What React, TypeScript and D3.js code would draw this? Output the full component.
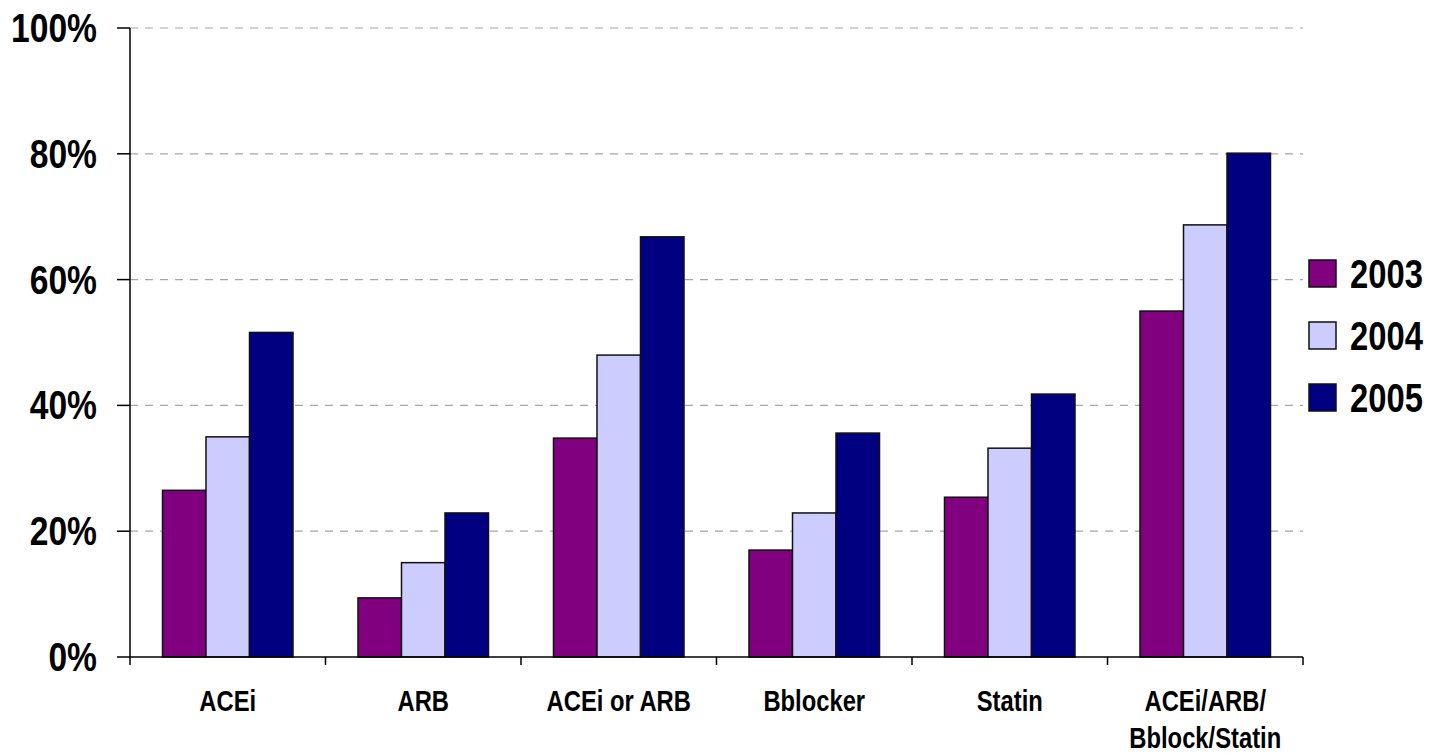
import React from "react";
import * as d3 from "d3";

const categories = ["ACEi", "ARB", "ACEi or ARB", "Bblocker", "Statin", "ACEi/ARB/\nBblock/Statin"];
const seriesNames = ["2003", "2004", "2005"];
const values2003 = [26.5, 9.4, 34.8, 17.0, 25.4, 55.0];
const values2004 = [35.0, 15.0, 48.0, 22.9, 33.2, 68.7];
const values2005 = [51.6, 22.9, 66.8, 35.6, 41.8, 80.1];
const seriesValues = [values2003, values2004, values2005];
const colors = ["#800080", "#CCCCFF", "#000080"];
const yTicks = [0, 20, 40, 60, 80, 100];

const FONT = "'Liberation Sans Narrow', 'Arial Narrow', 'Liberation Sans', Arial, sans-serif";
const SX = 0.82;

export default function App() {
  const W = 1441, H = 754;
  const left = 130, right = 1303, top = 28, bottom = 657;

  const x = d3.scaleBand<string>().domain(categories).range([left, right]).paddingInner(0).paddingOuter(0);
  const inner = d3.scaleBand<string>().domain(seriesNames).range([32.5, x.bandwidth() - 32.5]).padding(0);
  const y = d3.scaleLinear().domain([0, 100]).range([bottom, top]);

  const boundaries = categories.map((c) => x(c)!).concat([right]);

  return (
    <svg width={W} height={H} style={{ position: "absolute", left: 0, top: 0, background: "#fff" }}>
      {/* gridlines */}
      {yTicks.filter((t) => t > 0).map((t) => (
        <line key={"g" + t} x1={left} x2={right} y1={y(t)} y2={y(t)} stroke="#a6a6a6" strokeWidth={1.2} strokeDasharray="8,7" />
      ))}
      {/* bars */}
      {categories.map((c, ci) => (
        <g key={c}>
          {seriesNames.map((s, si) => {
            const v = seriesValues[si][ci];
            return (
              <rect key={s} x={x(c)! + inner(s)!} y={y(v)} width={inner.bandwidth()} height={y(0) - y(v)}
                fill={colors[si]} stroke="#111" strokeWidth={1.5} />
            );
          })}
        </g>
      ))}
      {/* y axis */}
      <line x1={left} x2={left} y1={top} y2={bottom} stroke="#000" strokeWidth={1.5} />
      {yTicks.map((t) => (
        <g key={"y" + t}>
          <line x1={left - 13} x2={left} y1={y(t)} y2={y(t)} stroke="#000" strokeWidth={1.5} />
          <text transform={`translate(97, ${y(t) + 14}) scale(${SX},1)`} textAnchor="end" fontFamily={FONT} fontWeight="bold" fontSize={41} fill="#000">{t}%</text>
        </g>
      ))}
      {/* x axis */}
      <line x1={left} x2={right} y1={bottom} y2={bottom} stroke="#000" strokeWidth={1.5} />
      {boundaries.map((b, i) => (
        <line key={"xt" + i} x1={b} x2={b} y1={bottom} y2={bottom + 8} stroke="#000" strokeWidth={1.5} />
      ))}
      {categories.map((c) => (
        <text key={"xl" + c} transform={`translate(${x(c)! + x.bandwidth() / 2}, 711) scale(${SX},1)`} textAnchor="middle" fontFamily={FONT} fontWeight="bold" fontSize={29} fill="#000">
          {c.split("\n").map((line, li) => (
            <tspan key={li} x={0} dy={li === 0 ? 0 : 37}>{line}</tspan>
          ))}
        </text>
      ))}
      {/* legend */}
      {seriesNames.map((s, i) => (
        <g key={"lg" + s} transform={`translate(1309, ${260 + i * 62})`}>
          <rect x={0} y={0} width={27} height={27} fill={colors[i]} stroke="#111" strokeWidth={1.5} />
          <text transform={`translate(41, 28) scale(${SX},1)`} fontFamily={FONT} fontWeight="bold" fontSize={40} fill="#000">{s}</text>
        </g>
      ))}
    </svg>
  );
}
